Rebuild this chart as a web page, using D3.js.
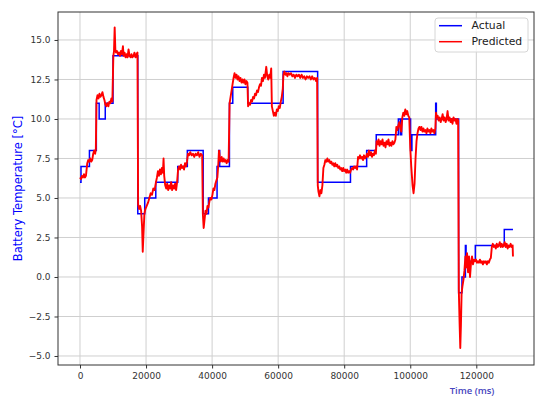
<!DOCTYPE html>
<html>
<head>
<meta charset="utf-8">
<script src="https://cdn.jsdelivr.net/npm/d3@7"></script>
<style>
  html, body { margin: 0; padding: 0; background: #fff; overflow: hidden; }
  svg { display: block; }
  .tick text { font-family: "DejaVu Sans", sans-serif; font-size: 9px; fill: #333; }
  .tick line { stroke: #333; }
  .domain { stroke: none; }
</style>
</head>
<body>
<div id="chart"></div>
<script>
// actual battery temperature (step series): start time of each step, value
var actualTime = [0, 300, 2860, 4950, 5800, 7650, 10000, 17500, 19600, 22950,
  29600, 32500, 37300, 38900, 41500, 42000, 42300, 45250, 46260, 50800,
  61500, 71960, 81900, 86800, 89700, 96400, 97000, 97400, 100100, 100500,
  107700, 107900, 114650, 115660, 116700, 116900, 119700, 128470, 131100];
var actualTemp = [6, 7, 8, 11, 10, 11, 14, 4, 5, 6,
  7, 8, 4, 5, 7, 8, 7, 11, 12, 11,
  13, 6, 7, 8, 9, 10, 9, 10, 8, 9,
  11, 10, -1, 0, 2, 1, 2, 3, 3];

// predicted battery temperature
var predTime = [
  0, 300, 600, 900, 1200, 1500, 1800,
  2200, 2500, 2800, 3100, 3400, 3700, 4000, 4300, 4600, 4800,
  5000, 5300, 5600, 5900, 6200, 6500, 6800, 7100, 7400,
  7700, 8000, 8300, 8600, 8900, 9200, 9500, 9800,
  10100, 10300, 10500, 10700, 10900, 11200, 11500, 11800, 12100, 12400, 12700,
  13000, 13200, 13500, 13800, 14100, 14400, 14700, 15000, 15300,
  15600, 15900, 16200, 16500, 16800, 17100, 17400,
  17600, 17900, 18200, 18500, 18800, 19000, 19200, 19500, 19800,
  20200, 20600, 21000, 21400, 21800, 22200, 22600, 23000, 23300,
  23600, 23900, 24200, 24500, 24800, 25100, 25300, 25500,
  25800, 26100, 26400, 26700, 27000, 27300, 27600, 27900, 28200, 28500, 28800, 29100, 29400,
  29700, 30000, 30300, 30600, 30900, 31200, 31500, 31800, 32100, 32400,
  32700, 33000, 33400, 33800, 34200, 34600, 35000, 35400, 35800, 36200, 36600, 37000,
  37200, 37450, 37700, 38000, 38300, 38600, 38900, 39200, 39500, 39800,
  40100, 40400, 40700, 41000, 41300, 41600, 41900, 42100, 42300,
  42600, 42900, 43200, 43500, 43800, 44100, 44400, 44700, 45000,
  45300, 45600, 45900, 46200, 46500, 46800, 47100, 47400, 47700, 48000,
  48300, 48600, 48900, 49200, 49500, 49800, 50100, 50400, 50700,
  50900, 51200, 51500, 51800, 52100, 52400, 52700, 53000, 53300, 53600,
  53900, 54200, 54500, 54800, 55100, 55400, 55700, 56000, 56400, 56700,
  57000, 57300, 57600, 57900, 58100, 58400, 58700, 59000, 59300,
  59600, 59900, 60200, 60500, 60800, 61100, 61400,
  61600, 61900, 62200, 62500, 62800, 63100, 63500, 63900, 64300, 64700,
  65100, 65500, 65900, 66300, 66700, 67100, 67500, 67900, 68300,
  68700, 69100, 69500, 69900, 70300, 70700, 71100, 71500, 71800,
  72000, 72200, 72500, 72800, 73100, 73400, 73700, 74000, 74300,
  74600, 74900, 75200, 75500, 75800, 76100, 76400, 76700, 77000,
  77300, 77600, 77900, 78200, 78500, 78800, 79100, 79400, 79700,
  80000, 80300, 80600, 80900, 81200, 81500, 81800,
  82100, 82400, 82700, 83000, 83300, 83600, 83900,
  84200, 84500, 84800, 85100, 85400, 85700, 86000, 86300, 86600,
  86900, 87200, 87500, 87800, 88100, 88400, 88700, 89000, 89300, 89600,
  89800, 90100, 90400, 90700, 91000, 91300, 91600, 91900, 92200, 92500,
  92800, 93100, 93400, 93700, 94000, 94300, 94600, 94900, 95200, 95500,
  95800, 96100, 96400, 96700, 97000, 97300, 97600,
  97900, 98200, 98500, 98800, 99100, 99400, 99700,
  100000, 100300, 100700, 101000, 101300, 101600, 101900, 102200,
  102500, 102800, 103100, 103400, 103700, 104000, 104300, 104600,
  104900, 105200, 105500, 105800, 106100, 106400, 106700, 107000, 107300, 107600,
  107800, 108000, 108300, 108600, 108900, 109200, 109500, 109800, 110100,
  110400, 110700, 111000, 111300, 111600, 111900, 112200, 112500,
  112800, 113100, 113400, 113700, 114000, 114300, 114500,
  114700, 114950, 115150, 115350, 115550, 115800, 116100, 116400,
  116700, 116900, 117200, 117500, 117800, 118100, 118400, 118700,
  119000, 119300, 119600, 119900, 120200, 120500, 120800, 121100, 121400,
  121700, 122000, 122300, 122600, 122900, 123200, 123500, 123800, 124100, 124400,
  124700, 125000, 125300, 125600, 125900, 126200, 126500, 126800, 127100, 127400,
  127700, 128000, 128300, 128600, 128900, 129200, 129500, 129800, 130100,
  130400, 130700, 131000, 131100];
var predTemp = [
  6.3, 6.2, 6.4, 6.3, 6.5, 6.3, 6.4,
  7.2, 7.4, 7.3, 7.5, 7.3, 7.4, 7.8, 8.0, 7.8, 8.1,
  11.2, 11.5, 11.3, 11.6, 11.4, 11.5, 11.7, 11.4, 11.2,
  10.9, 10.8, 11.0, 10.8, 11.1, 11.0, 11.3, 11.1,
  14.0, 14.3, 15.8, 14.4, 14.2, 14.3, 14.1, 14.2, 14.0, 14.3, 14.1,
  14.6, 14.0, 14.2, 13.9, 14.1, 13.9, 14.4, 14.0, 13.9,
  14.1, 13.9, 14.0, 14.2, 13.9, 14.1, 14.2,
  4.6, 4.3, 4.5, 4.2, 3.2, 1.6, 2.6, 4.0, 4.3,
  4.5, 4.7, 5.0, 5.3, 5.2, 5.6, 5.5, 6.0, 6.3,
  6.7, 6.4, 6.8, 6.5, 6.9, 6.6, 7.5, 6.4,
  5.8, 5.6, 5.9, 5.5, 5.8, 5.6, 6.0, 5.5, 5.8, 5.6, 5.9, 5.5, 6.0,
  6.8, 7.0, 6.8, 7.1, 6.9, 7.0, 6.8, 7.2, 7.0, 7.3,
  7.8, 7.7, 7.9, 7.7, 7.8, 7.6, 7.8, 7.7, 7.9, 7.6, 7.8, 7.7,
  4.0, 3.1, 3.6, 4.2, 4.0, 4.5, 4.4, 4.8, 5.0, 4.9,
  5.2, 5.6, 5.5, 5.9, 6.1, 6.3, 7.2, 8.0, 7.6,
  7.3, 7.6, 7.3, 7.5, 7.3, 7.4, 7.2, 7.4, 7.3,
  11.0, 11.4, 11.8, 12.2, 12.6, 12.9, 12.6, 12.8, 12.5, 12.7,
  12.4, 12.6, 12.3, 12.5, 12.3, 12.5, 12.2, 12.4, 12.3,
  10.8, 11.0, 10.9, 11.2, 11.1, 11.4, 11.3, 11.6, 11.5, 11.8,
  11.7, 12.0, 12.2, 12.1, 12.6, 12.4, 12.8, 12.6, 13.3, 12.7,
  12.5, 12.8, 12.6, 13.2, 10.8, 10.5, 10.2, 10.4, 10.2,
  10.6, 10.5, 10.8, 10.7, 11.1, 11.4, 11.9,
  12.8, 13.0, 12.8, 12.9, 12.7, 12.9, 12.8, 12.9, 12.7, 12.8,
  12.6, 12.8, 12.7, 12.8, 12.6, 12.8, 12.6, 12.7, 12.5,
  12.7, 12.6, 12.7, 12.5, 12.7, 12.5, 12.6, 12.4, 12.6,
  5.8, 5.4, 5.1, 5.5, 5.3, 5.8, 6.9, 7.1, 7.4,
  7.3, 7.5, 7.3, 7.4, 7.2, 7.3, 7.1, 7.2, 7.0,
  7.2, 7.0, 7.1, 6.9, 7.0, 6.8, 6.9, 6.7, 6.9,
  6.7, 6.8, 6.6, 6.8, 6.6, 6.7, 6.6,
  6.8, 6.9, 6.8, 7.0, 6.9, 7.0, 6.8,
  7.6, 7.5, 7.7, 7.5, 7.6, 7.4, 7.7, 7.5, 7.6,
  7.8, 7.6, 8.0, 7.7, 7.9, 7.6, 7.8, 7.7, 8.0, 7.8,
  8.6, 8.4, 8.7, 8.3, 8.6, 8.4, 8.7, 8.3, 8.5, 8.2,
  8.6, 8.4, 8.7, 8.3, 8.5, 8.3, 8.6, 8.4, 8.5, 8.7,
  9.5, 9.3, 9.6, 9.8, 9.4, 9.2, 10.1,
  10.4, 10.2, 10.6, 10.3, 10.5, 10.2, 10.1,
  8.2, 7.0, 5.8, 5.3, 5.9, 7.5, 8.6, 9.1,
  9.4, 9.5, 9.3, 9.5, 9.2, 9.4, 9.2, 9.3,
  9.1, 9.4, 9.2, 9.3, 9.1, 9.4, 9.2, 9.3, 9.1, 9.4,
  10.4, 10.1, 10.2, 9.9, 10.1, 9.8, 10.0, 10.3, 9.9,
  10.1, 9.8, 10.0, 10.5, 9.9, 10.1, 9.8, 10.0,
  9.7, 10.1, 9.9, 10.0, 9.7, 10.0, 9.9,
  -0.8, -3.0, -4.5, -3.0, -1.0, -0.6, -0.2, 0.4,
  1.3, 0.6, 1.5, 0.3, 1.3, 0.0, 0.9, 1.3,
  0.8, 1.1, 1.0, 1.1, 0.9, 1.0, 0.9, 1.1, 0.9,
  1.0, 0.8, 1.0, 0.9, 1.0, 0.8, 1.0, 0.9, 1.1, 1.2,
  1.9, 2.1, 1.9, 2.0, 1.8, 2.1, 1.9, 2.0, 2.2, 1.9,
  2.1, 1.9, 2.0, 2.2, 1.9, 2.1, 1.8, 2.0, 1.9,
  2.1, 1.9, 2.0, 1.3];

var xTicks = [0, 20000, 40000, 60000, 80000, 100000, 120000];
var yTicks = [-5, -2.5, 0, 2.5, 5, 7.5, 10, 12.5, 15];
var seriesNames = ["Actual", "Predicted"];
var seriesColors = ["blue", "red"];

var width = 544, height = 407,
  margin = {top: 12, right: 10, bottom: 42, left: 58},
  innerWidth = 476,
  innerHeight = 353;

var actual = d3.zip(actualTime, actualTemp);
var predicted = d3.zip(predTime, predTemp);

var xScale = d3.scaleLinear().domain([-6660, 137470]).range([0, innerWidth]);
var yScale = d3.scaleLinear().domain([-5.57, 16.77]).range([innerHeight, 0]);

var svg = d3.select("#chart").append("svg")
    .attr("width", width)
    .attr("height", height);

var g = svg.append("g")
    .attr("transform", "translate(" + margin.left + "," + margin.top + ")");

// grid
g.append("g").selectAll("line").data(xTicks).enter().append("line")
    .attr("x1", function(d) { return xScale(d); })
    .attr("x2", function(d) { return xScale(d); })
    .attr("y1", 0).attr("y2", innerHeight)
    .attr("stroke", "#cfcfcf").attr("stroke-width", 1);
g.append("g").selectAll("line").data(yTicks).enter().append("line")
    .attr("y1", function(d) { return yScale(d); })
    .attr("y2", function(d) { return yScale(d); })
    .attr("x1", 0).attr("x2", innerWidth)
    .attr("stroke", "#cfcfcf").attr("stroke-width", 1);

// axes
g.append("g")
    .attr("transform", "translate(0," + innerHeight + ")")
    .call(d3.axisBottom(xScale).tickValues(xTicks).tickFormat(d3.format("d")).tickSize(3.5).tickPadding(4));
g.append("g")
    .call(d3.axisLeft(yScale).tickValues(yTicks).tickFormat(d3.format(".1f")).tickSize(3.5).tickPadding(4));

// the lines
var lineActual = d3.line()
    .x(function(d) { return xScale(d[0]); })
    .y(function(d) { return yScale(d[1]); })
    .curve(d3.curveStepAfter);
var linePred = d3.line()
    .x(function(d) { return xScale(d[0]); })
    .y(function(d) { return yScale(d[1]); });

g.append("path").datum(actual)
    .attr("d", lineActual)
    .attr("fill", "none")
    .attr("stroke", seriesColors[0])
    .attr("stroke-width", 1.5);
g.append("path").datum(predicted)
    .attr("d", linePred)
    .attr("fill", "none")
    .attr("stroke", seriesColors[1])
    .attr("stroke-width", 1.9)
    .attr("stroke-linejoin", "round");

// frame
g.append("rect")
    .attr("width", innerWidth).attr("height", innerHeight)
    .attr("fill", "none").attr("stroke", "#333").attr("stroke-width", 1);

// legend
var legend = g.append("g").attr("transform", "translate(" + (innerWidth - 99) + ",6)");
legend.append("rect")
    .attr("width", 93).attr("height", 34).attr("rx", 3)
    .attr("fill", "#fff").attr("fill-opacity", 0.8)
    .attr("stroke", "#d6d6d6");
var items = legend.selectAll(".item").data(seriesNames).enter().append("g")
    .attr("transform", function(d, i) { return "translate(0," + (7.7 + i * 16) + ")"; });
items.append("line")
    .attr("x1", 4).attr("x2", 27)
    .attr("stroke", function(d, i) { return seriesColors[i]; })
    .attr("stroke-width", 1.5);
items.append("text")
    .attr("x", 36.5).attr("dy", "0.35em")
    .style("font-family", "DejaVu Sans, sans-serif")
    .style("font-size", "10.8px")
    .style("fill", "#222")
    .text(function(d) { return d; });

// axis labels
svg.append("text")
    .attr("transform", "translate(18," + (margin.top + innerHeight / 2) + ") rotate(-90)")
    .attr("text-anchor", "middle")
    .attr("dy", "0.35em")
    .style("font-family", "DejaVu Sans, sans-serif")
    .style("font-size", "11.5px")
    .style("fill", "blue")
    .text("Battery Temperature [°C]");

svg.append("text")
    .attr("x", 472).attr("y", 393.5)
    .attr("text-anchor", "middle")
    .style("font-family", "Open Sans, sans-serif")
    .style("font-weight", "600")
    .style("font-size", "9.5px")
    .style("fill", "#4646c0")
    .text("Time (ms)");
</script>
</body>
</html>
